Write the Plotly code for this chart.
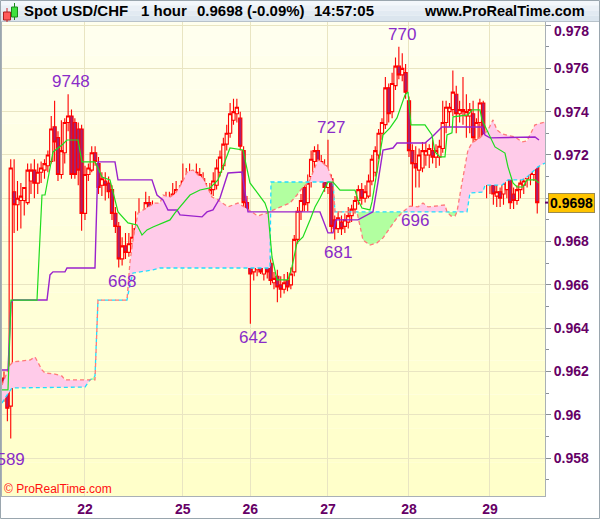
import plotly.graph_objects as go

# ---------------- data ----------------
OPEN = [0.9617, 0.9611, 0.9604, 0.9703, 0.9697, 0.9699, 0.9699, 0.9698, 0.9708, 0.9713,
        0.9707, 0.9712, 0.9713, 0.9715, 0.9717, 0.9733, 0.9728, 0.9711, 0.9721, 0.9735,
        0.9738, 0.9735, 0.9732, 0.9732, 0.9693, 0.9711, 0.9713, 0.9721, 0.9716, 0.9706,
        0.9708, 0.9707, 0.9704, 0.9693, 0.9687, 0.9672, 0.9678, 0.9675, 0.9679, 0.9682,
        0.9686, 0.9689, 0.9684, 0.9698, 0.9691, 0.9694, 0.9691, 0.9688, 0.9693, 0.9698,
        0.9696, 0.9698, 0.9703, 0.9696, 0.9708, 0.9706, 0.9705, 0.9706, 0.9708, 0.9709,
        0.9704, 0.9702, 0.9704, 0.9706, 0.9712, 0.9715, 0.9725, 0.9730, 0.9736, 0.9739,
        0.9737, 0.9722, 0.9698, 0.9682, 0.9666, 0.9667, 0.9670, 0.9665, 0.9669, 0.9670,
        0.9661, 0.9664, 0.9660, 0.9658, 0.9662, 0.9660, 0.9666, 0.9681, 0.9694, 0.9705,
        0.9698, 0.9710, 0.9717, 0.9722, 0.9715, 0.9715, 0.9705, 0.9709, 0.9690, 0.9686,
        0.9689, 0.9687, 0.9689, 0.9692, 0.9695, 0.9699, 0.9704, 0.9700, 0.9701, 0.9708,
        0.9712, 0.9720, 0.9730, 0.9734, 0.9751, 0.9740, 0.9752, 0.9761, 0.9757, 0.9758,
        0.9745, 0.9722, 0.9716, 0.9713, 0.9714, 0.9720, 0.9720, 0.9722, 0.9719, 0.9719,
        0.9723, 0.9735, 0.9740, 0.9741, 0.9748, 0.9739, 0.9740, 0.9738, 0.9738, 0.9739,
        0.9727, 0.9735, 0.9744, 0.9712, 0.9714, 0.9709, 0.9701, 0.9703, 0.9702, 0.9704,
        0.9710, 0.9702, 0.9699, 0.9704, 0.9706, 0.9709, 0.9718, 0.9711, 0.9717]
HIGH = [0.9620, 0.9614, 0.9718, 0.9718, 0.9708, 0.9707, 0.9705, 0.9716, 0.9716, 0.9718,
        0.9716, 0.9717, 0.9718, 0.9722, 0.9738, 0.9745, 0.9731, 0.9736, 0.9737, 0.9748,
        0.9741, 0.9737, 0.9735, 0.9734, 0.9715, 0.9716, 0.9724, 0.9724, 0.9719, 0.9712,
        0.9712, 0.9710, 0.9706, 0.9696, 0.9689, 0.9682, 0.9684, 0.9684, 0.9688, 0.9694,
        0.9700, 0.9694, 0.9703, 0.9701, 0.9699, 0.9697, 0.9696, 0.9698, 0.9703, 0.9703,
        0.9707, 0.9708, 0.9706, 0.9716, 0.9714, 0.9716, 0.9713, 0.9716, 0.9714, 0.9712,
        0.9707, 0.9707, 0.9712, 0.9718, 0.9722, 0.9728, 0.9734, 0.9744, 0.9746, 0.9746,
        0.9740, 0.9724, 0.9701, 0.9684, 0.9677, 0.9677, 0.9676, 0.9676, 0.9674, 0.9673,
        0.9666, 0.9667, 0.9664, 0.9665, 0.9666, 0.9668, 0.9683, 0.9696, 0.9702, 0.9707,
        0.9711, 0.9722, 0.9724, 0.9725, 0.9720, 0.9718, 0.9727, 0.9711, 0.9692, 0.9694,
        0.9692, 0.9693, 0.9696, 0.9697, 0.9701, 0.9706, 0.9707, 0.9706, 0.9711, 0.9720,
        0.9724, 0.9732, 0.9737, 0.9756, 0.9753, 0.9758, 0.9765, 0.9770, 0.9767, 0.9762,
        0.9747, 0.9725, 0.9724, 0.9723, 0.9726, 0.9726, 0.9725, 0.9727, 0.9725, 0.9727,
        0.9745, 0.9745, 0.9744, 0.9759, 0.9752, 0.9745, 0.9756, 0.9748, 0.9744, 0.9745,
        0.9737, 0.9746, 0.9745, 0.9720, 0.9716, 0.9712, 0.9708, 0.9705, 0.9710, 0.9712,
        0.9713, 0.9705, 0.9706, 0.9709, 0.9711, 0.9722, 0.9722, 0.9721, 0.9721]
LOW = [0.9606, 0.9597, 0.9589, 0.9684, 0.9685, 0.9686, 0.9692, 0.9697, 0.9702, 0.9700,
       0.9702, 0.9707, 0.9709, 0.9712, 0.9716, 0.9717, 0.9708, 0.9709, 0.9716, 0.9731,
       0.9709, 0.9709, 0.9706, 0.9685, 0.9690, 0.9708, 0.9712, 0.9715, 0.9702, 0.9701,
       0.9699, 0.9700, 0.9690, 0.9684, 0.9668, 0.9669, 0.9672, 0.9673, 0.9676, 0.9677,
       0.9680, 0.9679, 0.9680, 0.9682, 0.9684, 0.9683, 0.9682, 0.9686, 0.9690, 0.9691,
       0.9693, 0.9694, 0.9690, 0.9695, 0.9700, 0.9703, 0.9702, 0.9704, 0.9703, 0.9699,
       0.9698, 0.9699, 0.9701, 0.9704, 0.9710, 0.9713, 0.9722, 0.9728, 0.9734, 0.9735,
       0.9722, 0.9695, 0.9677, 0.9642, 0.9662, 0.9664, 0.9665, 0.9662, 0.9663, 0.9660,
       0.9658, 0.9652, 0.9654, 0.9656, 0.9657, 0.9658, 0.9664, 0.9679, 0.9690, 0.9694,
       0.9694, 0.9705, 0.9714, 0.9713, 0.9710, 0.9703, 0.9702, 0.9684, 0.9681, 0.9684,
       0.9683, 0.9684, 0.9686, 0.9689, 0.9693, 0.9697, 0.9697, 0.9698, 0.9700, 0.9706,
       0.9710, 0.9718, 0.9727, 0.9732, 0.9735, 0.9737, 0.9750, 0.9755, 0.9754, 0.9746,
       0.9719, 0.9696, 0.9705, 0.9705, 0.9712, 0.9715, 0.9714, 0.9716, 0.9714, 0.9715,
       0.9721, 0.9730, 0.9733, 0.9738, 0.9730, 0.9735, 0.9734, 0.9728, 0.9730, 0.9722,
       0.9722, 0.9728, 0.9710, 0.9700, 0.9702, 0.9697, 0.9696, 0.9696, 0.9697, 0.9700,
       0.9695, 0.9695, 0.9697, 0.9700, 0.9702, 0.9705, 0.9706, 0.9708, 0.9693]
CLOSE = [0.9611, 0.9603, 0.9714, 0.9697, 0.9700, 0.9701, 0.9705, 0.9713, 0.9713, 0.9707,
         0.9712, 0.9714, 0.9716, 0.9720, 0.9732, 0.9726, 0.9711, 0.9722, 0.9735, 0.9738,
         0.9711, 0.9711, 0.9713, 0.9693, 0.9711, 0.9714, 0.9721, 0.9717, 0.9705, 0.9709,
         0.9706, 0.9703, 0.9693, 0.9687, 0.9672, 0.9678, 0.9675, 0.9679, 0.9682, 0.9686,
         0.9689, 0.9685, 0.9698, 0.9691, 0.9694, 0.9691, 0.9688, 0.9693, 0.9698, 0.9696,
         0.9702, 0.9704, 0.9695, 0.9708, 0.9705, 0.9710, 0.9708, 0.9712, 0.9711, 0.9702,
         0.9702, 0.9704, 0.9708, 0.9714, 0.9719, 0.9725, 0.9730, 0.9739, 0.9740, 0.9742,
         0.9724, 0.9698, 0.9682, 0.9665, 0.9670, 0.9670, 0.9666, 0.9670, 0.9666, 0.9662,
         0.9663, 0.9659, 0.9658, 0.9661, 0.9659, 0.9665, 0.9681, 0.9694, 0.9699, 0.9697,
         0.9707, 0.9718, 0.9722, 0.9717, 0.9717, 0.9705, 0.9709, 0.9687, 0.9686, 0.9691,
         0.9686, 0.9690, 0.9692, 0.9695, 0.9699, 0.9704, 0.9700, 0.9703, 0.9708, 0.9718,
         0.9722, 0.9730, 0.9735, 0.9751, 0.9739, 0.9753, 0.9761, 0.9757, 0.9760, 0.9749,
         0.9722, 0.9716, 0.9714, 0.9720, 0.9722, 0.9722, 0.9723, 0.9719, 0.9722, 0.9724,
         0.9735, 0.9742, 0.9742, 0.9749, 0.9739, 0.9741, 0.9741, 0.9740, 0.9741, 0.9728,
         0.9735, 0.9744, 0.9713, 0.9714, 0.9710, 0.9702, 0.9703, 0.9700, 0.9707, 0.9710,
         0.9698, 0.9699, 0.9704, 0.9707, 0.9708, 0.9721, 0.9711, 0.9718, 0.9698]

# Ichimoku lines (bar index, price)
TENKAN_X = [-0.59, 1.19, 2.07, 9.78, 11.26, 12.15, 14.52, 17.19, 18.67, 21.93, 23.11, 26.96,
            27.85, 29.04, 31.41, 32.89, 33.78, 36.74, 39.41, 40.89, 42.37, 44.15, 47.11, 49.19,
            50.67, 52.74, 55.11, 58.07, 61.04, 63.41, 66.96, 70.81, 72.89, 77.33, 78.22, 79.41,
            80.89, 84.15, 85.33, 86.81, 88.59, 90.67, 92.15, 93.63, 96.0, 97.48, 98.67, 99.56,
            104.0, 104.89, 106.07, 108.44, 109.04, 110.81, 112.30, 114.37, 116.44, 118.81, 119.70,
            120.59, 124.74, 126.81, 127.70, 129.19, 130.67, 131.26, 132.74, 133.04, 137.48, 138.67,
            141.04, 141.63, 143.41, 145.48, 148.44, 149.33, 150.81, 152.0, 153.78, 154.96, 157.33,
            158.52]
TENKAN_Y = [0.96115, 0.96115, 0.96530, 0.96530, 0.97015, 0.97015, 0.97214, 0.97246, 0.97269,
            0.97269, 0.97168, 0.97168, 0.97140, 0.97098, 0.97085, 0.96992, 0.96937, 0.96886,
            0.96877, 0.96830, 0.96854, 0.96867, 0.96886, 0.96900, 0.96932, 0.96969, 0.97015,
            0.97038, 0.97048, 0.97085, 0.97232, 0.97223, 0.97071, 0.96978, 0.96937, 0.96729,
            0.96623, 0.96623, 0.96683, 0.96794, 0.96821, 0.96900, 0.96960, 0.97001, 0.97075,
            0.97075, 0.97052, 0.97038, 0.97038, 0.96992, 0.96955, 0.96946, 0.96983, 0.97140,
            0.97292, 0.97325, 0.97371, 0.97477, 0.97491, 0.97339, 0.97339, 0.97292, 0.97214,
            0.97191, 0.97191, 0.97292, 0.97302, 0.97376, 0.97385, 0.97408, 0.97408, 0.97362,
            0.97302, 0.97237, 0.97209, 0.97145, 0.97071, 0.97052, 0.97052, 0.97085, 0.97085,
            0.97071]
KIJUN_X = [-0.59, 1.19, 2.07, 2.67, 12.74, 13.63, 14.52, 18.07, 18.67, 26.96, 27.85, 32.89,
           33.78, 43.85, 45.33, 47.11, 48.59, 51.26, 52.15, 58.67, 60.15, 61.93, 64.0, 66.37,
           70.52, 72.30, 93.63, 95.11, 96.0, 97.48, 98.37, 104.89, 107.85, 109.33, 110.81,
           112.30, 115.26, 116.44, 124.74, 126.81, 129.78, 141.63, 142.52, 144.0, 157.33, 158.52]
KIJUN_Y = [0.96207, 0.96207, 0.96516, 0.96530, 0.96530, 0.96646, 0.96660, 0.96660, 0.96678,
           0.96678, 0.97168, 0.97168, 0.97085, 0.97085, 0.97015, 0.96992, 0.96946, 0.96946,
           0.96923, 0.96914, 0.96937, 0.96946, 0.97001, 0.97117, 0.97121, 0.96937, 0.96937,
           0.96877, 0.96840, 0.96840, 0.96900, 0.96900, 0.96923, 0.96937, 0.97075, 0.97223,
           0.97232, 0.97255, 0.97255, 0.97283, 0.97329, 0.97329, 0.97292, 0.97279, 0.97283,
           0.97269]
SPAN_A_X = [-0.59, 1.78, 2.67, 7.70, 9.19, 10.07, 11.26, 12.15, 15.11, 17.19, 18.07, 25.48,
            26.96, 27.85, 36.44, 37.33, 38.22, 39.70, 42.67, 44.74, 46.22, 47.11, 49.19, 50.67,
            52.74, 54.22, 56.0, 57.48, 58.96, 60.15, 61.63, 63.41, 66.37, 69.33, 72.30, 73.78,
            75.26, 76.74, 78.22, 79.02, 81.78, 84.74, 86.81, 88.59, 90.37, 91.56, 93.04, 94.52,
            96.0, 97.48, 98.07, 104.59, 105.48, 106.37, 108.44, 110.52, 112.30, 114.37, 116.44,
            118.22, 119.41, 120.30, 122.67, 124.15, 125.63, 130.67, 131.26, 132.44, 133.63,
            134.22, 135.70, 136.59, 137.48, 138.67, 141.04, 143.41, 144.89, 146.07, 147.56,
            151.41, 153.48, 154.96, 157.33, 160.30]
SPAN_A_Y = [0.96138, 0.96230, 0.96244, 0.96253, 0.96267, 0.96244, 0.96207, 0.96193, 0.96188,
            0.96179, 0.96161, 0.96161, 0.96161, 0.96530, 0.96530, 0.96706, 0.96807, 0.96932,
            0.96960, 0.96978, 0.96978, 0.97015, 0.97006, 0.97020, 0.97071, 0.97121, 0.97131,
            0.97108, 0.97094, 0.97052, 0.97006, 0.96992, 0.96960, 0.96978, 0.96946, 0.96932,
            0.96918, 0.96927, 0.96932, 0.96941, 0.96960, 0.96978, 0.97015, 0.97052, 0.97075,
            0.97121, 0.97177, 0.97163, 0.97140, 0.97075, 0.96937, 0.96937, 0.96867, 0.96807,
            0.96784, 0.96794, 0.96817, 0.96863, 0.96909, 0.96937, 0.96955, 0.96964, 0.96960,
            0.96978, 0.96960, 0.96969, 0.96937, 0.96918, 0.96918, 0.96937, 0.97071, 0.97154,
            0.97223, 0.97255, 0.97279, 0.97315, 0.97362, 0.97315, 0.97297, 0.97283, 0.97260,
            0.97265, 0.97339, 0.97352]
SPAN_B_X = [-0.59, 0.30, 2.37, 24.0, 25.48, 26.96, 27.85, 36.44, 37.33, 38.22, 44.15, 46.22,
            78.81, 79.02, 79.11, 90.37, 97.48, 98.07, 104.59, 118.22, 131.26, 134.22, 137.19,
            138.07, 141.93, 142.52, 147.56, 149.33, 153.48, 154.96, 158.22, 160.30]
SPAN_B_Y = [0.96054, 0.96078, 0.96124, 0.96128, 0.96161, 0.96179, 0.96530, 0.96530, 0.96600,
            0.96655, 0.96669, 0.96678, 0.96678, 0.96941, 0.97075, 0.97075, 0.97075, 0.96937,
            0.96937, 0.96937, 0.96937, 0.96937, 0.96937, 0.97024, 0.97029, 0.97061, 0.97061,
            0.97085, 0.97085, 0.97098, 0.97145, 0.97163]
# cloud pieces between crossings: (from index, to index, which span is on top)
CLOUD_FROM = [-0.59, 25.48, 36.44, 79.02, 90.37, 104.59, 118.22, 131.26, 134.22]
CLOUD_TO = [25.48, 27.85, 79.02, 90.37, 97.48, 118.22, 131.26, 134.22, 160.30]
CLOUD_TOP = ["A", "B", "A", "B", "A", "B", "A", "B", "A"]

DAY_TICK_INDEX = [24, 53, 73, 96, 120, 144]
DAY_TICK_LABELS = ["22", "25", "26", "27", "28", "29"]
PRICE_TICKS = [0.958, 0.960, 0.962, 0.964, 0.966, 0.968, 0.970, 0.972, 0.974, 0.976, 0.978]
PRICE_TICK_LABELS = ["0.958", "0.96", "0.962", "0.964", "0.966", "0.968", "0.97", "0.972",
                     "0.974", "0.976", "0.978"]
EXTREME_INDEX = [2, 19, 34, 73, 96, 98, 117, 121]
EXTREME_KIND = ["low", "high", "low", "low", "high", "low", "high", "low"]
EXTREME_TEXT = ["9589", "9748", "668", "642", "727", "681", "770", "696"]

TITLE_PARTS = ["Spot USD/CHF", "1 hour", "0.9698 (-0.09%)", "14:57:05"]
LAST_PRICE_TEXT = "0.9698"

# ---------------- figure ----------------
W, H = 600, 519
ML, MR, MT, MB = 2, 55, 22, 23
PW, PH = W - ML - MR, H - MT - MB


def pxx(px):
    return (px - ML) / PW


def pxy(py):
    return (H - MB - py) / PH


fig = go.Figure()

# cloud fills
for lo, hi, top in zip(CLOUD_FROM, CLOUD_TO, CLOUD_TOP):
    ax = [x for x in SPAN_A_X if lo - 1e-6 <= x <= hi + 1e-6]
    ay = [y for x, y in zip(SPAN_A_X, SPAN_A_Y) if lo - 1e-6 <= x <= hi + 1e-6]
    bx = [x for x in SPAN_B_X if lo - 1e-6 <= x <= hi + 1e-6]
    by = [y for x, y in zip(SPAN_B_X, SPAN_B_Y) if lo - 1e-6 <= x <= hi + 1e-6]
    fig.add_trace(go.Scatter(
        x=ax + bx[::-1], y=ay + by[::-1], mode="lines", fill="toself",
        fillcolor="#ffcbe9" if top == "A" else "#b2ffa0",
        line=dict(width=0), hoverinfo="skip"))

fig.add_trace(go.Scatter(x=SPAN_B_X, y=SPAN_B_Y, mode="lines", hoverinfo="skip",
                         line=dict(color="#22ddff", width=1.3, dash="4px,3px")))
fig.add_trace(go.Scatter(x=SPAN_A_X, y=SPAN_A_Y, mode="lines", hoverinfo="skip",
                         line=dict(color="#ff7a7a", width=1.3, dash="4px,3px")))

fig.add_trace(go.Candlestick(
    x=list(range(len(OPEN))), open=OPEN, high=HIGH, low=LOW, close=CLOSE,
    increasing=dict(line=dict(color="#ff0000", width=1.1), fillcolor="rgba(255,255,230,0)"),
    decreasing=dict(line=dict(color="#ff0000", width=1.1), fillcolor="#a8206e"),
    whiskerwidth=0, hoverinfo="skip"))

fig.add_trace(go.Scatter(x=KIJUN_X, y=KIJUN_Y, mode="lines", hoverinfo="skip",
                         line=dict(color="#9a22cc", width=1.4)))
fig.add_trace(go.Scatter(x=TENKAN_X, y=TENKAN_Y, mode="lines", hoverinfo="skip",
                         line=dict(color="#1edc1e", width=1.2)))

shapes = []
# plot background gradient
n_b = 14
for k in range(n_b):
    t = k / (n_b - 1)
    g = int(238 - 36 * t)
    shapes.append(dict(type="rect", xref="paper", yref="paper", layer="below",
                       x0=0, x1=1, y0=1 - (k + 1) / n_b, y1=1 - k / n_b,
                       fillcolor=f"rgb(255,255,{g})", line=dict(width=0)))
# title bar
tb_cols = ["#f3f7fb", "#eaf0f6", "#e2eaf2", "#dbe5ee"]
for k, c in enumerate(tb_cols):
    shapes.append(dict(type="rect", xref="paper", yref="paper", layer="below",
                       x0=pxx(0), x1=pxx(600), y0=pxy(21 * (k + 1) / 4), y1=pxy(21 * k / 4),
                       fillcolor=c, line=dict(width=0)))
shapes.append(dict(type="line", xref="paper", yref="paper", x0=pxx(0), x1=pxx(600),
                   y0=pxy(21.5), y1=pxy(21.5), line=dict(color="#b8c2ca", width=1)))
# outer border
shapes.append(dict(type="rect", xref="paper", yref="paper", x0=pxx(0.5), x1=pxx(599.5),
                   y0=pxy(518.5), y1=pxy(0.5), line=dict(color="#9aa6ae", width=1)))
# title icon (two little candles)
shapes += [
    dict(type="line", xref="paper", yref="paper", x0=pxx(7), x1=pxx(7), y0=pxy(22), y1=pxy(8),
         line=dict(color="#cc2222", width=1)),
    dict(type="rect", xref="paper", yref="paper", x0=pxx(3.5), x1=pxx(10.5), y0=pxy(20), y1=pxy(12),
         fillcolor="#ff5a5a", line=dict(color="#aa2020", width=1)),
    dict(type="line", xref="paper", yref="paper", x0=pxx(14.5), x1=pxx(14.5), y0=pxy(20), y1=pxy(3),
         line=dict(color="#1a8a1a", width=1)),
    dict(type="rect", xref="paper", yref="paper", x0=pxx(11.5), x1=pxx(17.5), y0=pxy(17), y1=pxy(7),
         fillcolor="#3ee03e", line=dict(color="#1a8a1a", width=1)),
]
# last price tick
shapes.append(dict(type="line", xref="paper", yref="y", x0=1, x1=pxx(549),
                   y0=CLOSE[-1], y1=CLOSE[-1], line=dict(color="#660066", width=2)))

axis_font = dict(family="Liberation Sans", size=14, color="#660066", weight="bold")

ann = []
title_x = [23, 140, 196, 313]
for txt, xp in zip(TITLE_PARTS, title_x):
    ann.append(dict(text=txt, xref="paper", yref="paper", x=pxx(xp - 1), y=pxy(11),
                    xanchor="left", yanchor="middle", showarrow=False,
                    font=dict(family="Liberation Sans", size=15, color="#000000", weight="bold")))
ann.append(dict(text="www.ProRealTime.com", xref="paper", yref="paper", x=pxx(587), y=pxy(11),
                xanchor="right", yanchor="middle", showarrow=False,
                font=dict(family="Liberation Sans", size=14.5, color="#000000", weight="bold")))
ann.append(dict(text="© ProRealTime.com", xref="paper", yref="paper", x=pxx(2), y=pxy(489),
                xanchor="left", yanchor="middle", showarrow=False,
                font=dict(family="Liberation Sans", size=12, color="#ff1010")))
# topmost price label is nudged down inside the frame, as in the original
ann.append(dict(text=PRICE_TICK_LABELS[-1], xref="paper", yref="paper", x=pxx(552), y=pxy(31),
                xanchor="left", yanchor="middle", showarrow=False, font=axis_font))
ann.append(dict(text=LAST_PRICE_TEXT, xref="paper", yref="y", x=pxx(548), y=CLOSE[-1],
                xanchor="left", yanchor="middle", showarrow=False, bgcolor="#ffc400",
                bordercolor="#9a8a50", borderwidth=1, borderpad=1,
                font=dict(family="Liberation Sans", size=14, color="#000000", weight="bold")))
for idx, kind, txt in zip(EXTREME_INDEX, EXTREME_KIND, EXTREME_TEXT):
    yv = HIGH[idx] if kind == "high" else LOW[idx]
    ann.append(dict(text=txt, x=idx, y=yv, xref="x", yref="y", showarrow=False,
                    xanchor="center", yanchor="bottom" if kind == "high" else "top",
                    xshift=-5 if idx == 2 else 3,
                    yshift=1 if kind == "high" else (-9 if idx == 2 else -2),
                    font=dict(family="Liberation Sans", size=17, color="#8a2cc8")))

grid = "#e9e5c2"
fig.update_layout(
    width=W, height=H, margin=dict(l=ML, r=MR, t=MT, b=MB),
    paper_bgcolor="white", plot_bgcolor="rgba(0,0,0,0)", showlegend=False,
    boxgap=0.05, boxgroupgap=0.0,
    shapes=shapes, annotations=ann,
    xaxis=dict(range=[-0.59, 160.3], tickmode="array", tickvals=DAY_TICK_INDEX,
               ticktext=DAY_TICK_LABELS, showgrid=True, gridcolor=grid, gridwidth=1,
               ticks="", tickfont=axis_font, showline=True, linecolor="#a9b0b6",
               mirror=True, zeroline=False, rangeslider=dict(visible=False)),
    yaxis=dict(side="right", range=[0.95625, 0.97814], tickmode="array",
               tickvals=PRICE_TICKS, ticktext=PRICE_TICK_LABELS[:-1] + [""], showgrid=True,
               gridcolor=grid, gridwidth=1, ticks="outside", ticklen=5, tickcolor="#8a9096",
               minor=dict(tick0=0.957, dtick=0.002, ticks="outside", ticklen=3,
                          tickcolor="#8a9096", showgrid=False),
               tickfont=axis_font, showline=True, linecolor="#a9b0b6", mirror=True,
               zeroline=False),
)

fig.write_html("out.html", config={"displayModeBar": False},
               post_script="document.body.style.margin='0';document.body.style.overflow='hidden';")
